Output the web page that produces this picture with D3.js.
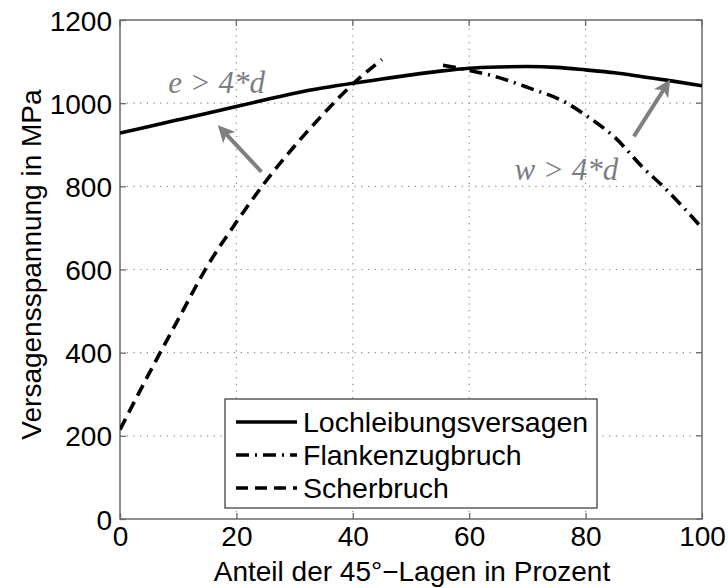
<!DOCTYPE html>
<html>
<head>
<meta charset="utf-8">
<script src="https://cdn.jsdelivr.net/npm/d3@7"></script>
<style>
  html, body { margin: 0; padding: 0; background: #fff; }
  svg { display: block; }
</style>
</head>
<body>
<svg id="chart" width="728" height="588"></svg>
<script>
// Anteil der 45°-Lagen (x) and failure stress in MPa (y) for each failure mode
const lochX = [0, 5, 10, 15, 20, 25, 30, 35, 40, 45, 50, 55, 60, 65, 70, 75, 80, 85, 90, 95, 100];
const lochY = [928, 944, 960, 976, 992, 1008, 1024, 1037, 1048, 1058, 1068, 1077, 1084, 1087, 1088, 1086, 1080, 1073, 1063, 1053, 1042];

const flankeX = [55.5, 60, 65, 70, 76.8, 80, 85, 90, 93.3, 100];
const flankeY = [1091, 1079, 1062, 1038, 1000, 971, 918, 843, 800, 700];

const scherX = [0, 5, 10, 15, 20, 25, 30, 35, 40, 45];
const scherY = [215, 350, 480, 608, 714, 811, 897, 975, 1046, 1105];

const xTicks = [0, 20, 40, 60, 80, 100];
const yTicks = [0, 200, 400, 600, 800, 1000, 1200];

const legendLabels = ["Lochleibungsversagen", "Flankenzugbruch", "Scherbruch"];
const xLabel = "Anteil der 45°\u2212Lagen in Prozent";
const yLabel = "Versagensspannung in MPa";

// annotations: label text, label anchor, arrow tail and head (data units)
const noteText = ["e > 4*d", "w > 4*d"];
const noteAt = [[8.3, 1024], [67.8, 815]];
const arrowFrom = [[24.3, 835], [88.3, 920]];
const arrowTo = [[17.6, 935], [93.9, 1043]];

const svg = d3.select("#chart");
const margin = { left: 120, top: 20, right: 26, bottom: 69 };
const W = 728, H = 588;
const x = d3.scaleLinear().domain([0, 100]).range([margin.left, W - margin.right]);
const y = d3.scaleLinear().domain([0, 1200]).range([H - margin.bottom, margin.top]);

const font = "'Liberation Sans', Arial, Helvetica, sans-serif";
const frameColor = "#6a6a6a";

// dotted grid
const grid = svg.append("g");
grid.selectAll("line.gx").data(xTicks.slice(1, -1)).join("line")
  .attr("x1", d => x(d)).attr("x2", d => x(d))
  .attr("y1", y(0)).attr("y2", y(1200))
  .attr("stroke", "#8a8a8a").attr("stroke-width", 1.2)
  .attr("stroke-dasharray", "1.2,5.5");
grid.selectAll("line.gy").data(yTicks.slice(1, -1)).join("line")
  .attr("y1", d => y(d)).attr("y2", d => y(d))
  .attr("x1", x(0)).attr("x2", x(100))
  .attr("stroke", "#8a8a8a").attr("stroke-width", 1.2)
  .attr("stroke-dasharray", "1.2,5.5");

// axes with inward ticks
const xAxis = d3.axisBottom(x).tickValues(xTicks).tickSize(-6).tickPadding(7).tickFormat(d3.format("d"));
const yAxis = d3.axisLeft(y).tickValues(yTicks).tickSize(-6).tickPadding(8).tickFormat(d3.format("d"));

const gx = svg.append("g").attr("transform", `translate(0,${y(0)})`).call(xAxis);
const gy = svg.append("g").attr("transform", `translate(${x(0)},0)`).call(yAxis);
[gx, gy].forEach(g => {
  g.select(".domain").remove();
  g.selectAll(".tick line").attr("stroke", frameColor).attr("stroke-width", 1.3);
  g.selectAll(".tick text").attr("fill", "#000").style("font-family", font).style("font-size", "28px");
});
gx.selectAll(".tick text").attr("dy", "0.71em");
gy.selectAll(".tick text").attr("dy", "0.36em");

// top/right mirrored ticks
svg.append("g").selectAll("line").data(xTicks).join("line")
  .attr("x1", d => x(d)).attr("x2", d => x(d))
  .attr("y1", y(1200)).attr("y2", y(1200) + 6)
  .attr("stroke", frameColor).attr("stroke-width", 1.3);
svg.append("g").selectAll("line").data(yTicks).join("line")
  .attr("y1", d => y(d)).attr("y2", d => y(d))
  .attr("x1", x(100)).attr("x2", x(100) - 6)
  .attr("stroke", frameColor).attr("stroke-width", 1.3);

// frame
svg.append("rect")
  .attr("x", x(0)).attr("y", y(1200))
  .attr("width", x(100) - x(0)).attr("height", y(0) - y(1200))
  .attr("fill", "none").attr("stroke", frameColor).attr("stroke-width", 1.5);

// axis titles
svg.append("text")
  .attr("x", (x(0) + x(100)) / 2 + 1).attr("y", 581)
  .attr("text-anchor", "middle")
  .style("font-family", font).style("font-size", "28px")
  .text(xLabel);
svg.append("text")
  .attr("transform", `translate(41,${(y(0) + y(1200)) / 2 - 5}) rotate(-90)`)
  .attr("text-anchor", "middle")
  .style("font-family", font).style("font-size", "28px")
  .text(yLabel);

// curves
const clip = svg.append("clipPath").attr("id", "plotclip").append("rect")
  .attr("x", x(0)).attr("y", y(1200))
  .attr("width", x(100) - x(0)).attr("height", y(0) - y(1200));

const line = d3.line().x(d => x(d[0])).y(d => y(d[1])).curve(d3.curveMonotoneX);
const series = [
  { pts: d3.zip(lochX, lochY), dash: null },
  { pts: d3.zip(flankeX, flankeY), dash: "13,6,2,6" },
  { pts: d3.zip(scherX, scherY), dash: "12,7" }
];
const curves = svg.append("g").attr("clip-path", "url(#plotclip)");
series.forEach(s => {
  curves.append("path")
    .attr("d", line(s.pts))
    .attr("fill", "none").attr("stroke", "#000").attr("stroke-width", 3.6)
    .attr("stroke-dasharray", s.dash);
});

// annotation arrows
const defs = svg.append("defs");
defs.append("marker").attr("id", "arrowhead")
  .attr("viewBox", "0 0 10 10").attr("refX", 6).attr("refY", 5)
  .attr("markerWidth", 4.2).attr("markerHeight", 4.2)
  .attr("markerUnits", "strokeWidth")
  .attr("orient", "auto")
  .append("path").attr("d", "M0,0 L10,5 L0,10 L2.5,5 Z").attr("fill", "#7f7f7f");

arrowFrom.forEach((f, i) => {
  const t = arrowTo[i];
  svg.append("line")
    .attr("x1", x(f[0])).attr("y1", y(f[1]))
    .attr("x2", x(t[0])).attr("y2", y(t[1]))
    .attr("stroke", "#7f7f7f").attr("stroke-width", 4)
    .attr("marker-end", "url(#arrowhead)");
});

noteText.forEach((t, i) => {
  svg.append("text")
    .attr("x", x(noteAt[i][0])).attr("y", y(noteAt[i][1]))
    .attr("fill", "#7c7c84")
    .style("font-family", "'Liberation Serif', 'DejaVu Serif', serif")
    .style("font-style", "italic").style("font-size", "31px")
    .text(t);
});

// legend
const lg = svg.append("g");
lg.append("rect")
  .attr("x", 225).attr("y", 399).attr("width", 372).attr("height", 109)
  .attr("fill", "#fff").attr("stroke", "#333").attr("stroke-width", 1.2);
const legRows = lg.selectAll("g.row").data(legendLabels).join("g")
  .attr("transform", (d, i) => `translate(0,${422 + i * 33})`);
legRows.append("line")
  .attr("x1", 236).attr("x2", 297).attr("y1", 0).attr("y2", 0)
  .attr("stroke", "#000").attr("stroke-width", 3.6)
  .attr("stroke-dasharray", (d, i) => series[i].dash);
legRows.append("text")
  .attr("x", 303).attr("y", 0).attr("dy", "0.36em")
  .style("font-family", font).style("font-size", "28.5px")
  .text(d => d);
</script>
</body>
</html>
